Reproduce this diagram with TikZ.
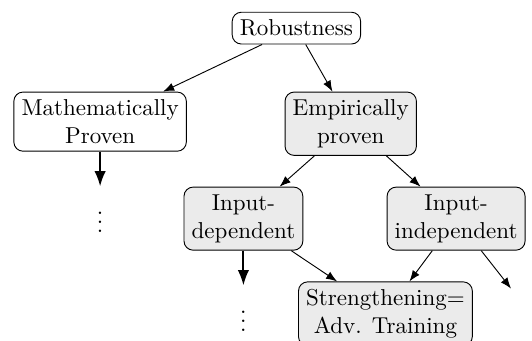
\documentclass[tikz,border=0pt]{standalone}
\usepackage{tikz}
\usetikzlibrary{positioning, arrows.meta}

\begin{document}
\begin{tikzpicture}[
      node distance=0.47cm,
      box/.style={rectangle, draw, rounded corners, align=center},
      grey/.style={box, fill=black!8},
      dots/.style={inner ysep=5pt},
      arrow/.style={-{Latex}},
      bigarrow/.style={-{Latex}, thick}
    ]
    \useasboundingbox (-4.53,0.43) rectangle (3.60,-4.78);

    \node[box] (robust) at (0,0) {Robustness};
    \node[box, below=0.72cm of robust, xshift=-3cm] (math) {Mathematically\\Proven};
    \node[grey, below=0.72cm of robust, xshift=0.83cm] (emp) {Empirically\\proven};
    \node[grey, below=of emp, xshift=-1.64cm] (dep) {Input-\\dependent};
    \node[grey, below=of emp, xshift=1.61cm] (indep) {Input-\\independent};
    \node[grey, below=of dep, xshift=2.17cm] (strength) {Strengthening=\\Adv. Training};
    \node[dots, below=0.53cm of math] (mathdots) {$\vdots$};
    \node[dots, below=0.53cm of dep] (depdots) {$\vdots$};
    \coordinate[below=0.58cm of indep.south, xshift=0.84cm] (more);

    \draw[arrow] (robust) -- (math);
    \draw[arrow] (robust) -- (emp);
    \draw[arrow] (emp) -- (dep);
    \draw[arrow] (emp) -- (indep);
    \draw[arrow] (dep) -- (strength);
    \draw[arrow] (indep) -- (strength);
    \draw[arrow] (indep) -- (more);
    \draw[bigarrow] (math) -- (mathdots);
    \draw[bigarrow] (dep) -- (depdots);
  \end{tikzpicture}
\end{document}
